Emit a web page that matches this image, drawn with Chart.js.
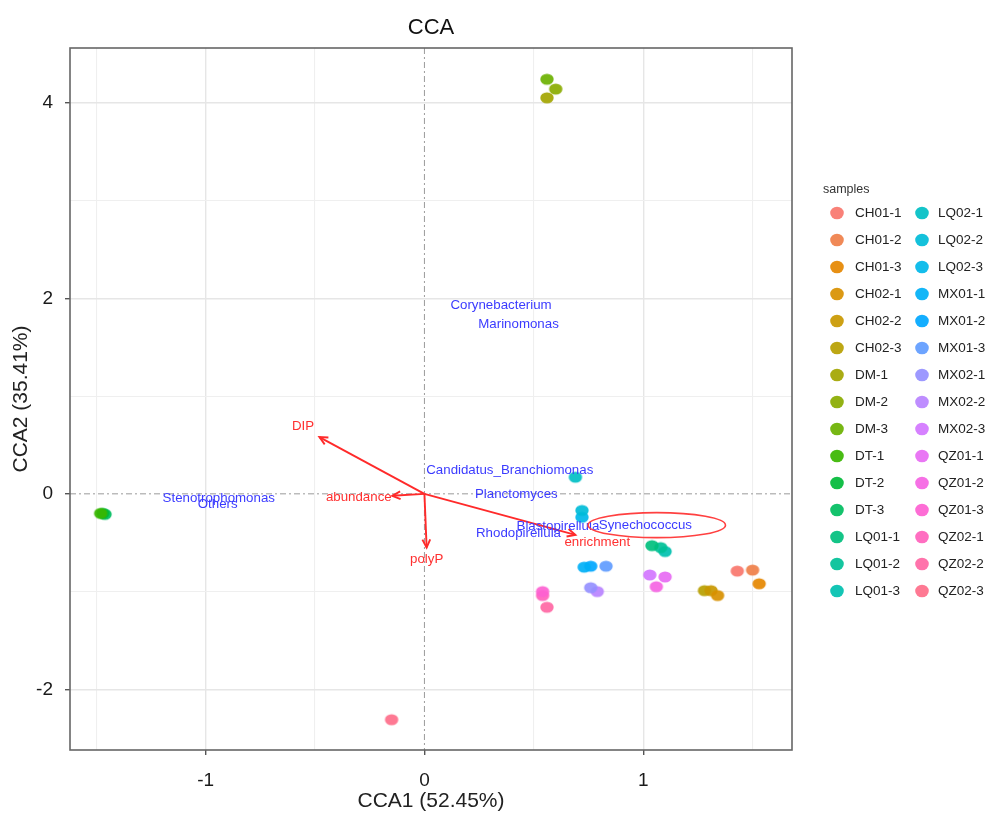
<!DOCTYPE html>
<html>
<head>
<meta charset="utf-8">
<script src="https://cdn.jsdelivr.net/npm/chart.js@4.4.1/dist/chart.umd.min.js"></script>
<style>
html,body{margin:0;padding:0;background:#fff;}
canvas{display:block;}
</style>
</head>
<body>
<canvas id="c" width="987" height="814"></canvas>
<script>
// ---------------- DATA ----------------
const samples = ["CH01-1","CH01-2","CH01-3","CH02-1","CH02-2","CH02-3","DM-1","DM-2","DM-3",
  "DT-1","DT-2","DT-3","LQ01-1","LQ01-2","LQ01-3","LQ02-1","LQ02-2","LQ02-3",
  "MX01-1","MX01-2","MX01-3","MX02-1","MX02-2","MX02-3","QZ01-1","QZ01-2","QZ01-3",
  "QZ02-1","QZ02-2","QZ02-3"];
const cca1 = [1.43,1.50,1.53, 1.34,1.31,1.28, 0.56,0.60,0.56,
  -1.48,-1.47,-1.46, 1.04,1.08,1.10, 0.69,0.72,0.72,
  0.73,0.76,0.83, 0.76,0.79,1.03, 1.10,1.06,0.54,
  0.54,0.56,-0.15];
const cca2 = [-0.79,-0.78,-0.92, -1.04,-0.99,-0.99, 4.05,4.14,4.24,
  -0.20,-0.20,-0.21, -0.53,-0.55,-0.59, 0.17,-0.17,-0.24,
  -0.75,-0.74,-0.74, -0.96,-1.00,-0.83, -0.85,-0.95,-1.00,
  -1.04,-1.16,-2.31];

// environmental arrows (CCA1, CCA2 of arrow tips)
const envNames = ["DIP","abundance","polyP","enrichment"];
const envX = [-0.48,-0.147,0.01,0.69];
const envY = [0.58,-0.02,-0.55,-0.42];
const envLabelX = [-0.555,-0.30,0.01,0.79];
const envLabelY = [0.69,-0.04,-0.67,-0.50];

// species labels
const speciesNames = ["Corynebacterium","Marinomonas","Candidatus_Branchiomonas","Planctomyces",
  "Rhodopirellula","Blastopirellula","Synechococcus","Stenotrophomonas","Others"];
const speciesX = [0.35,0.43,0.39,0.42,0.43,0.61,1.01,-0.94,-0.945];
const speciesY = [1.93,1.73,0.245,-0.01,-0.40,-0.33,-0.32,-0.05,-0.11];

// highlight ellipse (center x, center y, radius x, radius y)
const ellipseData = [1.062,-0.32,0.314,0.128];

const xTickLabels = [-1,0,1];
const yTickLabels = [-2,0,2,4];

// ---------------- COLOURS (ggplot hue palette) ----------------
function hcl(h, c, l){
  const Xn=95.047,Yn=100,Zn=108.883;
  const un=4*Xn/(Xn+15*Yn+3*Zn), vn=9*Yn/(Xn+15*Yn+3*Zn);
  const hr=h*Math.PI/180, U=c*Math.cos(hr), V=c*Math.sin(hr);
  const Y = l>8 ? Yn*Math.pow((l+16)/116,3) : Yn*l/903.3;
  const u=U/(13*l)+un, v=V/(13*l)+vn;
  const X=9*Y*u/(4*v), Z=-X/3-5*Y+3*Y/v;
  const x=X/100,y=Y/100,z=Z/100;
  let r= 3.240479*x-1.537150*y-0.498535*z;
  let g=-0.969256*x+1.875992*y+0.041556*z;
  let b= 0.055648*x-0.204043*y+1.057311*z;
  const gm=t=>{t = t<=0.0031308?12.92*t:1.055*Math.pow(t,1/2.4)-0.055; return Math.round(Math.min(1,Math.max(0,t))*255);};
  return [gm(r),gm(g),gm(b)];
}
const colors = samples.map((s,i)=>{const c=hcl(15+12*i,100,65);return `rgba(${c[0]},${c[1]},${c[2]},0.92)`;});

// ellipse-shaped marker images (reference markers are slightly wider than tall)
function ellipseMarker(color, rx, ry){
  const cv=document.createElement('canvas');
  cv.width=Math.ceil(rx*2)+2; cv.height=Math.ceil(ry*2)+2;
  const g=cv.getContext('2d');
  g.fillStyle=color; g.beginPath();
  g.ellipse(cv.width/2, cv.height/2, rx, ry, 0, 0, Math.PI*2); g.fill();
  return cv;
}
const markers = colors.map(c=>ellipseMarker(c,6.7,5.6));

const FONT = '"Liberation Sans", Arial, Helvetica, sans-serif';

// ---------------- PLUGIN ----------------
function arrow(ctx, x0,y0,x1,y1){
  ctx.beginPath(); ctx.moveTo(x0,y0); ctx.lineTo(x1,y1); ctx.stroke();
  const a=Math.atan2(y1-y0,x1-x0), L=9, w=Math.PI/7;
  ctx.beginPath();
  ctx.moveTo(x1-L*Math.cos(a-w), y1-L*Math.sin(a-w));
  ctx.lineTo(x1,y1);
  ctx.lineTo(x1-L*Math.cos(a+w), y1-L*Math.sin(a+w));
  ctx.stroke();
}

const ccaPlugin = {
  id:'cca',
  beforeDatasetsDraw(chart){
    const {ctx, chartArea:a, scales:{x,y}} = chart;
    ctx.save();
    ctx.strokeStyle='#9a9a9a'; ctx.lineWidth=1; ctx.setLineDash([6,3,2,3]);
    const x0=x.getPixelForValue(0), y0=y.getPixelForValue(0);
    ctx.beginPath(); ctx.moveTo(x0,a.top); ctx.lineTo(x0,a.bottom); ctx.stroke();
    ctx.beginPath(); ctx.moveTo(a.left,y0); ctx.lineTo(a.right,y0); ctx.stroke();
    ctx.restore();
  },
  afterDatasetsDraw(chart){
    const {ctx, chartArea:a, scales:{x,y}} = chart;
    ctx.save();
    // arrows
    ctx.strokeStyle='#ff2a2a'; ctx.lineWidth=1.9; ctx.setLineDash([]);
    const ox=x.getPixelForValue(0), oy=y.getPixelForValue(0);
    envNames.forEach((n,i)=>arrow(ctx, ox,oy, x.getPixelForValue(envX[i]), y.getPixelForValue(envY[i])));
    // species labels
    ctx.font='13.3px '+FONT; ctx.textAlign='center'; ctx.textBaseline='middle';
    ctx.fillStyle='#3b3bff';
    speciesNames.forEach((n,i)=>ctx.fillText(n, x.getPixelForValue(speciesX[i]), y.getPixelForValue(speciesY[i])));
    // env labels
    ctx.fillStyle='#ff3030';
    envNames.forEach((n,i)=>ctx.fillText(n, x.getPixelForValue(envLabelX[i]), y.getPixelForValue(envLabelY[i])));
    // ellipse
    const cx=x.getPixelForValue(ellipseData[0]), cy=y.getPixelForValue(ellipseData[1]);
    const rx=Math.abs(x.getPixelForValue(ellipseData[0]+ellipseData[2])-cx);
    const ry=Math.abs(y.getPixelForValue(ellipseData[1]+ellipseData[3])-cy);
    ctx.strokeStyle='#ff4040'; ctx.lineWidth=1.6;
    ctx.beginPath(); ctx.ellipse(cx,cy,rx,ry,0,0,Math.PI*2); ctx.stroke();
    // panel border
    ctx.strokeStyle='#666'; ctx.lineWidth=1.6;
    ctx.strokeRect(a.left, a.top, a.right-a.left, a.bottom-a.top);
    ctx.restore();
  },
  afterDraw(chart){
    const ctx=chart.ctx;
    ctx.save();
    ctx.fillStyle='#333'; ctx.font='12.5px '+FONT; ctx.textAlign='left'; ctx.textBaseline='middle';
    ctx.fillText('samples', 823, 190);
    ctx.font='13.5px '+FONT;
    const rows=15, y0=213, dy=27;
    samples.forEach((s,i)=>{
      const col=Math.floor(i/rows), r=i%rows;
      const cx = col===0?837:922, tx = col===0?855:938, cy=y0+r*dy;
      ctx.fillStyle=colors[i];
      ctx.beginPath(); ctx.ellipse(cx,cy,6.8,6.3,0,0,Math.PI*2); ctx.fill();
      ctx.fillStyle='#222';
      ctx.fillText(s, tx, cy);
    });
    ctx.restore();
  }
};

// ---------------- CHART ----------------
const isIn=(arr,v)=>arr.some(t=>Math.abs(t-v)<1e-9);
new Chart(document.getElementById('c'), {
  type:'scatter',
  data:{
    datasets: samples.map((s,i)=>({
      label:s,
      data:[{x:cca1[i], y:cca2[i]}],
      backgroundColor:colors[i],
      pointStyle:markers[i],
      borderWidth:0,
      pointRadius:6.5,
      pointHoverRadius:6.5
    }))
  },
  options:{
    responsive:false, animation:false, devicePixelRatio:1,
    layout:{padding:{left:0,right:195,top:10,bottom:0}},
    plugins:{
      legend:{display:false},
      tooltip:{enabled:false},
      title:{display:true, text:'CCA', fullSize:false, color:'#111',
        font:{family:FONT, size:22, weight:'normal', lineHeight:1.2}, padding:{top:4.3,bottom:7.3}}
    },
    scales:{
      x:{
        type:'linear', min:-1.62, max:1.68,
        afterBuildTicks:s=>{s.ticks=[-1.5,-1,-0.5,0,0.5,1,1.5].map(v=>({value:v}));},
        afterFit:s=>{s.height=64;},
        border:{display:false},
        grid:{
          color:c=>c.tick.value===0?'rgba(0,0,0,0)':(isIn(xTickLabels,c.tick.value)?'#e6e6e6':'#efefef'),
          lineWidth:c=>isIn(xTickLabels,c.tick.value)?1.4:1.1,
          drawTicks:true, tickLength:5,
          tickColor:c=>isIn(xTickLabels,c.tick.value)?'#555':'rgba(0,0,0,0)'
        },
        ticks:{
          color:'#1a1a1a', font:{family:FONT,size:19}, padding:14, maxRotation:0, autoSkip:false,
          callback:v=>isIn(xTickLabels,v)?String(v):''
        },
        title:{display:true, text:'CCA1 (52.45%)', color:'#222', font:{family:FONT,size:21}, padding:{top:0,bottom:0}}
      },
      y:{
        type:'linear', min:-2.62, max:4.56,
        afterBuildTicks:s=>{s.ticks=[-2,-1,0,1,2,3,4].map(v=>({value:v}));},
        afterFit:s=>{s.width=70;},
        border:{display:false},
        grid:{
          color:c=>c.tick.value===0?'rgba(0,0,0,0)':(isIn(yTickLabels,c.tick.value)?'#e6e6e6':'#efefef'),
          lineWidth:c=>isIn(yTickLabels,c.tick.value)?1.4:1.1,
          drawTicks:true, tickLength:5,
          tickColor:c=>isIn(yTickLabels,c.tick.value)?'#555':'rgba(0,0,0,0)'
        },
        ticks:{
          color:'#1a1a1a', font:{family:FONT,size:19}, padding:12, autoSkip:false,
          callback:v=>isIn(yTickLabels,v)?String(v):''
        },
        title:{display:true, text:'CCA2 (35.41%)', color:'#222', font:{family:FONT,size:21}, padding:{top:9,bottom:0}}
      }
    }
  },
  plugins:[ccaPlugin]
});
</script>
</body>
</html>
